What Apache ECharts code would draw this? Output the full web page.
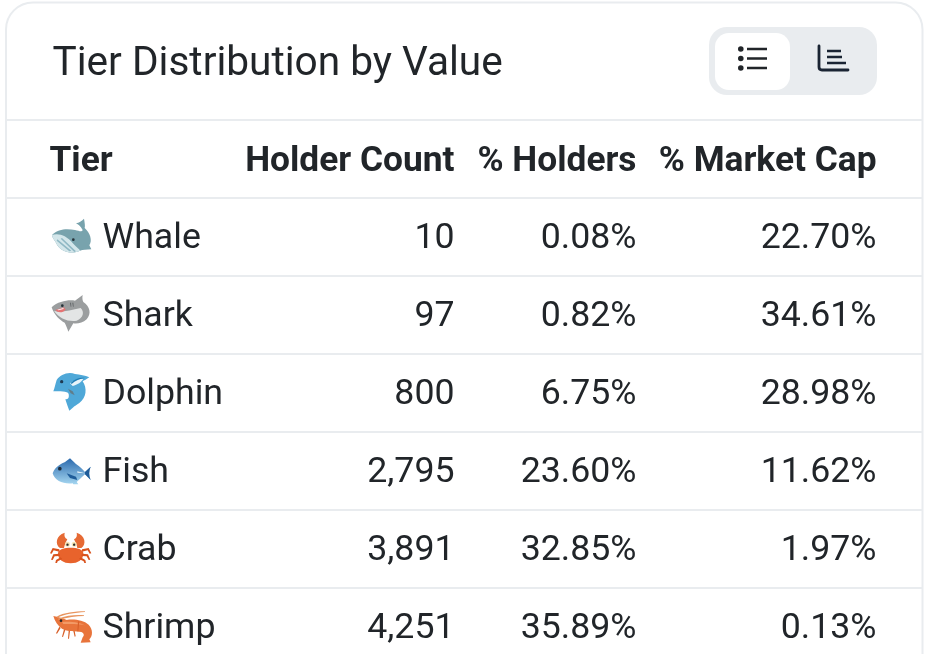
<!doctype html>
<html>
<head>
<meta charset="utf-8">
<title>Tier Distribution by Value</title>
<style>
html,body{height:100%;padding:0;margin:0;background:#fff;}
#main{width:939px;height:654px;}
</style>
</head>
<body>
<div id="main"></div>
<script src="https://cdn.jsdelivr.net/npm/echarts@6/dist/echarts.min.js"></script>
<script>
var titleText = 'Tier Distribution by Value';
var headers = ['Tier', 'Holder Count', '% Holders', '% Market Cap'];
var tiers = ['Whale', 'Shark', 'Dolphin', 'Fish', 'Crab', 'Shrimp'];
var holderCount = ['10', '97', '800', '2,795', '3,891', '4,251'];
var pctHolders = ['0.08%', '0.82%', '6.75%', '23.60%', '32.85%', '35.89%'];
var pctMarketCap = ['22.70%', '34.61%', '28.98%', '11.62%', '1.97%', '0.13%'];

var INK = '#212529';
var RULE = '#e9ecef';
var FONT = 'Roboto';
var COL_X = [49.5, 454.5, 636.5, 876.5];
var NAME_X = 102.5;
var BODY_SIZE = 35.7;
var HEAD_SIZE = 35.3;

// hand drawn stand-ins for the emoji, in a 210x210 box around the row centre
var icons = {
	Whale: [
		['#78a3ad', 'M36 99C56 78 85 80 105 84C118 86 124 92 128 84C122 72 112 66 108 64C118 62 124 58 132 50C134 62 136 72 134 78C150 92 158 115 148 130L154 142C140 144 128 142 120 146C100 156 62 154 48 122C42 112 36 106 36 99Z'],
		['#d3e6ea', 'M36 99C55 92 80 100 100 125C112 138 120 142 120 146C100 156 62 154 48 122C42 112 36 106 36 99Z'],
		['#8fb8c4', 'M52 112L94 146L88 148L50 116ZM66 108L108 148L103 150L62 110Z'],
		['#263238', 'M96 113a4 4 0 1 0 8 0a4 4 0 1 0 -8 0Z']
	],
	Shark: [
		['#9b9e9f', 'M35 82C55 62 90 58 105 62L128 45C126 55 128 62 130 66C150 80 155 100 140 118C128 130 110 132 100 130L85 155C82 145 78 135 74 128C60 122 42 104 35 82Z'],
		['#e3e5e5', 'M42 92C60 100 90 90 122 84C134 96 130 114 110 122C85 126 58 116 42 92Z'],
		['#e57373', 'M46 90L72 82L77 89C68 98 55 100 46 90Z'],
		['#fafafa', 'M52 89L70 84L71 87L55 91Z'],
		['#5f6366', 'M90 68L92 80L94 80L93 68ZM97 68L99 80L101 80L100 68Z'],
		['#263238', 'M63 77a4 4 0 1 0 8 0a4 4 0 1 0 -8 0Z']
	],
	Dolphin: [
		['#4fa8d8', 'M40 100C44 90 46 78 50 66C60 50 85 40 105 48C120 50 135 52 148 58C140 64 132 68 128 70C142 90 140 120 118 135C108 142 102 145 100 148L88 158C84 148 80 136 76 124C84 124 88 120 86 108C82 98 60 102 40 100Z'],
		['#e8f4fa', 'M90 76C100 66 115 62 130 62C125 72 112 80 98 84Z'],
		['#1f7db5', 'M92 75C105 62 120 58 135 60C120 62 105 68 95 78Z'],
		['#607d8b', 'M84 92L98 100L104 112L92 106Z'],
		['#1f3a52', 'M60 71a5 5 0 1 0 10 0a5 5 0 1 0 -10 0Z']
	],
	Fish: [
		[{type: 'linear', x: 0, y: 0, x2: 0, y2: 1, colorStops: [{offset: 0, color: '#2a69ad'}, {offset: 1, color: '#a5d6f0'}]},
			'M38 112C45 90 70 80 75 78L90 67L108 84C120 92 128 100 135 108L152 92C146 105 146 118 152 132L135 115C125 125 115 133 110 138L115 145L100 145L98 142C70 145 45 135 38 112Z'],
		['#1f5c99', 'M135 108L152 92C146 105 146 118 152 132L135 115Z'],
		['#1f5c99', 'M80 112L108 122L112 132L90 126Z'],
		['#eaf6fc', 'M112 106L135 112L112 110Z'],
		['#1b2a3a', 'M54 98a5.5 5.5 0 1 0 11 0a5.5 5.5 0 1 0 -11 0Z']
	],
	Crab: [
		['#e8632c', 'M54 118C54 96 130 96 130 118C130 138 114 148 92 148C70 148 54 138 54 118Z'],
		['#e66a34', 'M60 102C44 90 48 64 74 56C72 66 74 72 82 76C78 84 74 92 72 102ZM124 102C140 90 136 64 110 56C112 66 110 72 102 76C106 84 110 92 112 102Z'],
		['#d9531e', 'M58 106L38 102L30 118L35 119L41 109L58 113ZM58 119L40 121L33 137L38 138L44 127L60 126ZM62 130L48 138L46 147L51 147L53 142L67 135ZM126 106L146 102L154 118L149 119L143 109L126 113ZM126 119L144 121L151 137L146 138L140 127L124 126ZM122 130L136 138L138 147L133 147L131 142L117 135Z'],
		['#f5e6b8', 'M75 91a7.500 7.500 0 1 0 15 0a7.500 7.500 0 1 0 -15 0ZM95 91a7.500 7.500 0 1 0 15 0a7.500 7.500 0 1 0 -15 0Z'],
		['#2b2b2b', 'M79 92a3.500 3.500 0 1 0 7 0a3.500 3.500 0 1 0 -7 0ZM99 92a3.500 3.500 0 1 0 7 0a3.500 3.500 0 1 0 -7 0Z']
	],
	Shrimp: [
		['#e8743b', 'M40 72C60 76 72 80 80 84C100 80 130 84 146 98C160 114 158 132 148 142L152 151L122 152L128 136C134 130 132 124 124 120C108 116 82 120 66 110C54 102 44 88 40 72Z'],
		['#f39a66', 'M66 90C90 88 120 90 138 102C128 96 100 96 70 96Z'],
		['#d85f28', 'M58 104L48 124L51 125L62 108ZM72 112L66 134L69 135L76 114ZM86 116L84 140L87 140L90 117ZM100 117L104 134L107 133L104 117ZM114 88L112 118L115 118L118 88Z'],
		['#e8955f', 'M50 74C70 62 105 58 135 58L135 60C105 62 72 66 52 78ZM54 80C80 70 110 68 132 70L132 72C110 72 82 76 56 84Z'],
		['#2b2b2b', 'M59 86a4 4 0 1 0 8 0a4 4 0 1 0 -8 0Z']
	]
};

function textEl(text, x, y, align, size, weight) {
	return {
		type: 'text',
		style: {
			x: x, y: y, text: text, fill: INK, align: align, verticalAlign: 'middle',
			font: (weight || 400) + ' ' + size + 'px ' + FONT
		}
	};
}

function lineEl(x1, y, x2) {
	return {type: 'line', shape: {x1: x1, y1: y, x2: x2, y2: y}, style: {stroke: RULE, lineWidth: 2}};
}

function renderRow(params, api) {
	var i = params.dataIndex;
	var cy = api.coord([0, tiers[i]])[1];
	var band = api.size([0, 1])[1];
	var ty = cy + 2;
	var children = [
		lineEl(6, cy - band / 2, 922),
		{
			type: 'group', x: 40, y: cy - 35, scaleX: 1 / 3, scaleY: 1 / 3,
			children: icons[tiers[i]].map(function (p) {
				return {type: 'path', shape: {pathData: p[1]}, style: {fill: p[0]}};
			})
		},
		textEl(tiers[i], NAME_X, ty, 'left', BODY_SIZE),
		textEl(holderCount[i], api.coord([COL_X[1], tiers[i]])[0], ty, 'right', BODY_SIZE),
		textEl(pctHolders[i], api.coord([COL_X[2], tiers[i]])[0], ty, 'right', BODY_SIZE),
		textEl(pctMarketCap[i], api.coord([COL_X[3], tiers[i]])[0], ty, 'right', BODY_SIZE)
	];
	return {type: 'group', children: children};
}

function renderChrome() {
	return {type: 'group', children: [
		{type: 'rect', shape: {x: 6, y: 2.5, width: 916.5, height: 720, r: 27}, style: {fill: 'none', stroke: RULE, lineWidth: 2}},
		lineEl(6, 120, 922),
		textEl(titleText, 52.5, 65, 'left', 40.6),
		{type: 'rect', shape: {x: 709, y: 27, width: 168, height: 68, r: 18}, style: {fill: '#e9ecef'}},
		{type: 'rect', shape: {x: 715, y: 33, width: 75, height: 57, r: 14}, style: {fill: '#fff'}},
		// list icon
		{type: 'path', shape: {pathData: 'M738 49a2.8 2.8 0 1 0 5.6 0a2.8 2.8 0 1 0 -5.6 0ZM738 58.500a2.800 2.800 0 1 0 5.600 0a2.800 2.800 0 1 0 -5.600 0ZM738 68a2.800 2.800 0 1 0 5.600 0a2.800 2.800 0 1 0 -5.600 0Z'}, style: {fill: INK}},
		{type: 'path', shape: {pathData: 'M747 49H767M747 58.500H767M747 68H767'}, style: {fill: 'none', stroke: INK, lineWidth: 2.4}},
		// bar chart icon
		{type: 'path', shape: {pathData: 'M819 46V67Q819 70 822 70H848'}, style: {fill: 'none', stroke: '#1a2433', lineWidth: 2.8, lineCap: 'round'}},
		{type: 'path', shape: {pathData: 'M827 51H841M827 57H842M827 63H846'}, style: {fill: 'none', stroke: '#1a2433', lineWidth: 2.4}},
		textEl(headers[0], COL_X[0], 162, 'left', HEAD_SIZE, 700),
		textEl(headers[1], COL_X[1], 162, 'right', HEAD_SIZE, 700),
		textEl(headers[2], COL_X[2], 162, 'right', HEAD_SIZE, 700),
		textEl(headers[3], COL_X[3], 162, 'right', HEAD_SIZE, 700)
	]};
}

var myChart = echarts.init(document.getElementById('main'));
myChart.setOption({
	animation: false,
	backgroundColor: '#fff',
	grid: {left: 0, right: 0, top: 198, height: 468, outerBoundsMode: 'none'},
	xAxis: {type: 'value', min: 0, max: 939, show: false},
	yAxis: {type: 'category', inverse: true, data: tiers, show: false},
	series: [{
		type: 'custom',
		renderItem: renderChrome,
		clip: false,
		silent: true,
		data: [[0, tiers[0]]],
		encode: {x: 0, y: 1}
	}, {
		type: 'custom',
		renderItem: renderRow,
		clip: false,
		silent: true,
		data: tiers.map(function (t, i) { return [i, t]; }),
		encode: {x: 0, y: 1}
	}]
});
</script>
</body>
</html>
